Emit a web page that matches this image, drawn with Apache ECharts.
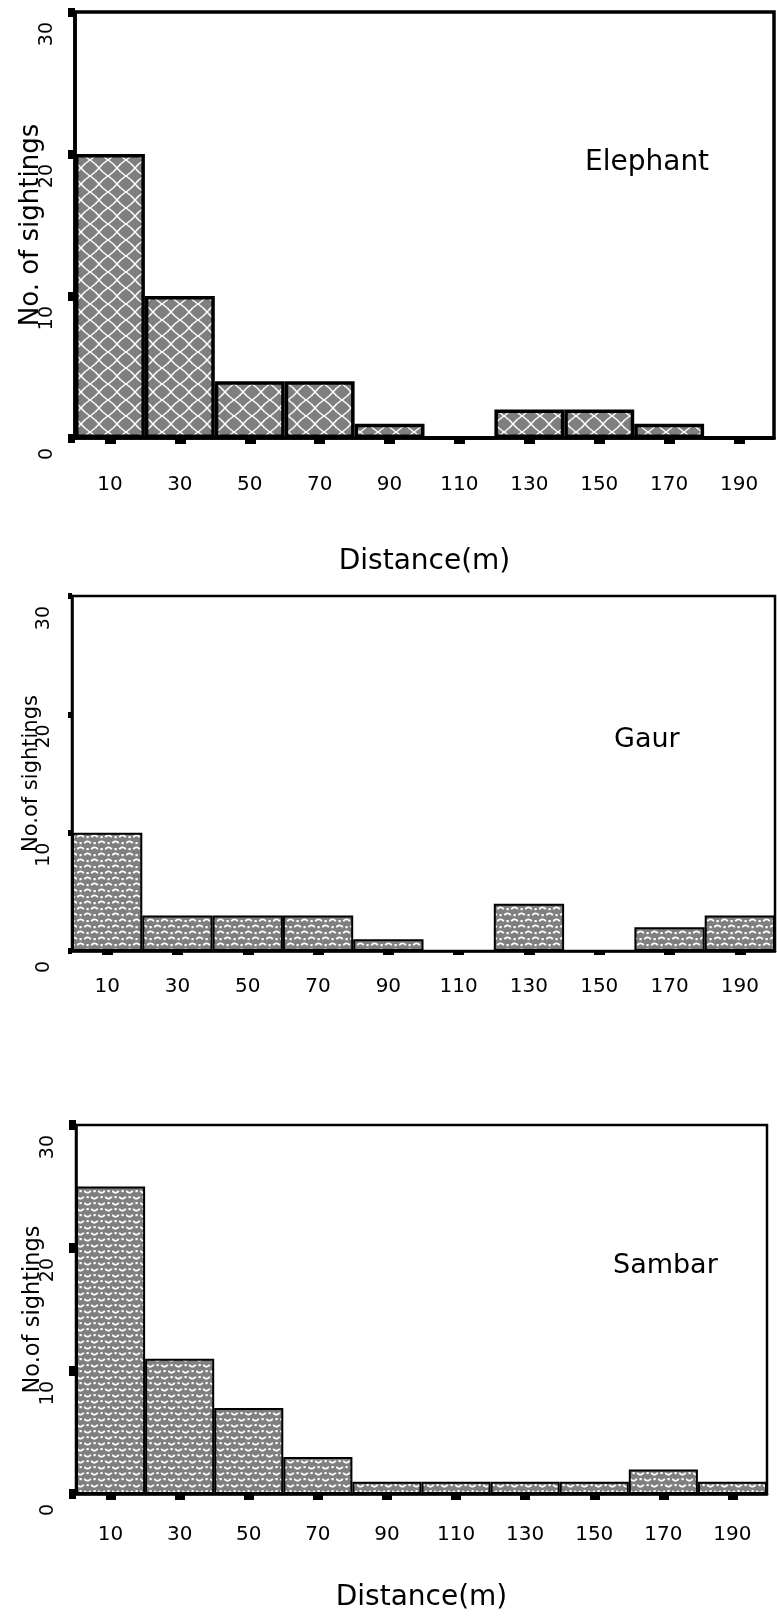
<!DOCTYPE html>
<html>
<head>
<meta charset="utf-8">
<script src="https://cdn.jsdelivr.net/npm/echarts@6/dist/echarts.min.js"></script>
<style>
  html, body { margin: 0; padding: 0; background: #fff; }
  #chart { width: 777px; height: 1617px; }
</style>
</head>
<body>
<div id="chart"></div>
<script>
const distanceBins = ["10", "30", "50", "70", "90", "110", "130", "150", "170", "190"];
const elephantCounts = [20, 10, 4, 4, 1, 0, 2, 2, 1, 0];
const gaurCounts = [10, 3, 3, 3, 1, 0, 4, 0, 2, 3];
const sambarCounts = [25, 11, 7, 3, 1, 1, 1, 1, 2, 1];
const countMax = 30;
const countStep = 10;
const speciesNames = ["Elephant", "Gaur", "Sambar"];

const FONT = '"DejaVu Sans", sans-serif';

// crossed lattice fill (elephant)
const makeLattice = () => {
  const w = 18, h = 16;
  const c = document.createElement("canvas");
  c.width = w;
  c.height = h;
  const g = c.getContext("2d");
  g.fillStyle = "#7f7f7f";
  g.fillRect(0, 0, w, h);
  g.strokeStyle = "#fff";
  g.lineWidth = 1.4;
  g.beginPath();
  g.moveTo(0, 0);
  g.quadraticCurveTo(w * 0.3, h * 0.22, w / 2, h / 2);
  g.quadraticCurveTo(w * 0.7, h * 0.22, w, 0);
  g.moveTo(0, h);
  g.quadraticCurveTo(w * 0.3, h * 0.78, w / 2, h / 2);
  g.quadraticCurveTo(w * 0.7, h * 0.78, w, h);
  g.stroke();
  return c;
};

// arcs and dots fill; up = true draws caps, false draws bowls
const makeScales = (up) => {
  const w = 14, h = 12;
  const c = document.createElement("canvas");
  c.width = w;
  c.height = h;
  const g = c.getContext("2d");
  g.fillStyle = "#7f7f7f";
  g.fillRect(0, 0, w, h);
  g.strokeStyle = "#fff";
  g.fillStyle = "#fff";
  g.lineWidth = 1.8;
  const a0 = up ? Math.PI * 1.15 : Math.PI * 0.15;
  const a1 = up ? Math.PI * 1.85 : Math.PI * 0.85;
  const arcAt = (x, y) => {
    g.beginPath();
    g.arc(x, y, 3.6, a0, a1);
    g.stroke();
  };
  const oy = up ? 5 : 1;
  arcAt(3.5, oy);
  arcAt(10.5, oy + 6);
  arcAt(10.5, oy - 6);
  arcAt(-3.5, oy + 6);
  arcAt(17.5, oy + 6);
  arcAt(-3.5, oy - 6);
  arcAt(17.5, oy - 6);
  g.fillRect(2.5, 8, 2.2, 2.2);
  g.fillRect(9.5, 2, 2.2, 2.2);
  return c;
};

const latticeFill = { image: makeLattice(), repeat: "repeat" };
const capFill = { image: makeScales(true), repeat: "repeat" };
const bowlFill = { image: makeScales(false), repeat: "repeat" };

const panels = [
  { grid: { left: 75, top: 12, width: 699, height: 426 }, data: elephantCounts, fill: latticeFill,
    line: 3.5, barBorder: 3.5, xTick: [6, 11], yTick: [7, 9], labelMargin: 37,
    yName: "No. of sightings", yNameSize: 26, yNameGap: 31,
    xName: "Distance(m)", xNameGap: 110, title: [585, 149, 28] },
  { grid: { left: 72, top: 596, width: 703, height: 355 }, data: gaurCounts, fill: capFill,
    line: 2.5, barBorder: 2, xTick: [4, 11], yTick: [4, 6], labelMargin: 26,
    yName: "No.of sightings", yNameSize: 21, yNameGap: 30,
    xName: "", xNameGap: 0, title: [614, 726, 27] },
  { grid: { left: 76, top: 1125, width: 691, height: 369 }, data: sambarCounts, fill: bowlFill,
    line: 2.5, barBorder: 2, xTick: [6, 10], yTick: [7, 10], labelMargin: 31,
    yName: "No.of sightings", yNameSize: 22.5, yNameGap: 31,
    xName: "Distance(m)", xNameGap: 90, title: [613, 1252, 27] },
];

const myChart = echarts.init(document.getElementById("chart"), null, { renderer: "canvas" });

const option = {
  backgroundColor: "#fff",
  animation: false,
  title: panels.map((p, i) => ({
    text: speciesNames[i],
    left: p.title[0],
    top: p.title[1],
    padding: 0,
    textStyle: { fontFamily: FONT, fontSize: p.title[2], fontWeight: "normal", color: "#000" },
  })),
  grid: panels.map((p) => ({
    ...p.grid,
    show: true,
    borderColor: "#000",
    borderWidth: p.line,
    backgroundColor: "#fff",
    containLabel: false,
    outerBoundsMode: "none",
  })),
  xAxis: panels.map((p, i) => ({
    type: "category",
    gridIndex: i,
    data: distanceBins,
    boundaryGap: true,
    axisLine: { show: true, lineStyle: { color: "#000", width: p.line } },
    axisTick: { show: true, alignWithLabel: true, length: p.xTick[0], lineStyle: { color: "#000", width: p.xTick[1] } },
    axisLabel: { interval: 0, margin: p.labelMargin, fontFamily: FONT, fontSize: 20, color: "#000" },
    splitLine: { show: false },
    name: p.xName,
    nameLocation: "middle",
    nameGap: p.xNameGap,
    nameMoveOverlap: false,
    nameTextStyle: { fontFamily: FONT, fontSize: 28, color: "#000" },
  })),
  yAxis: panels.map((p, i) => ({
    type: "value",
    gridIndex: i,
    min: 0,
    max: countMax,
    interval: countStep,
    axisLine: { show: true, lineStyle: { color: "#000", width: p.line } },
    axisTick: { show: true, length: p.yTick[0], lineStyle: { color: "#000", width: p.yTick[1] } },
    splitLine: { show: false },
    axisLabel: {
      rotate: 90, align: "right", verticalAlign: "bottom", padding: [0, 10, 0, 0], margin: 18,
      fontFamily: FONT, fontSize: 19, color: "#000",
    },
    name: p.yName,
    nameLocation: "middle",
    nameRotate: 90,
    nameGap: p.yNameGap,
    nameMoveOverlap: false,
    nameTextStyle: { fontFamily: FONT, fontSize: p.yNameSize, color: "#000" },
  })),
  series: panels.map((p, i) => ({
    type: "bar",
    name: speciesNames[i],
    xAxisIndex: i,
    yAxisIndex: i,
    data: p.data,
    barCategoryGap: "0%",
    itemStyle: { color: p.fill, borderColor: "#000", borderWidth: p.barBorder },
    emphasis: { disabled: true },
  })),
};

myChart.setOption(option);
</script>
</body>
</html>
